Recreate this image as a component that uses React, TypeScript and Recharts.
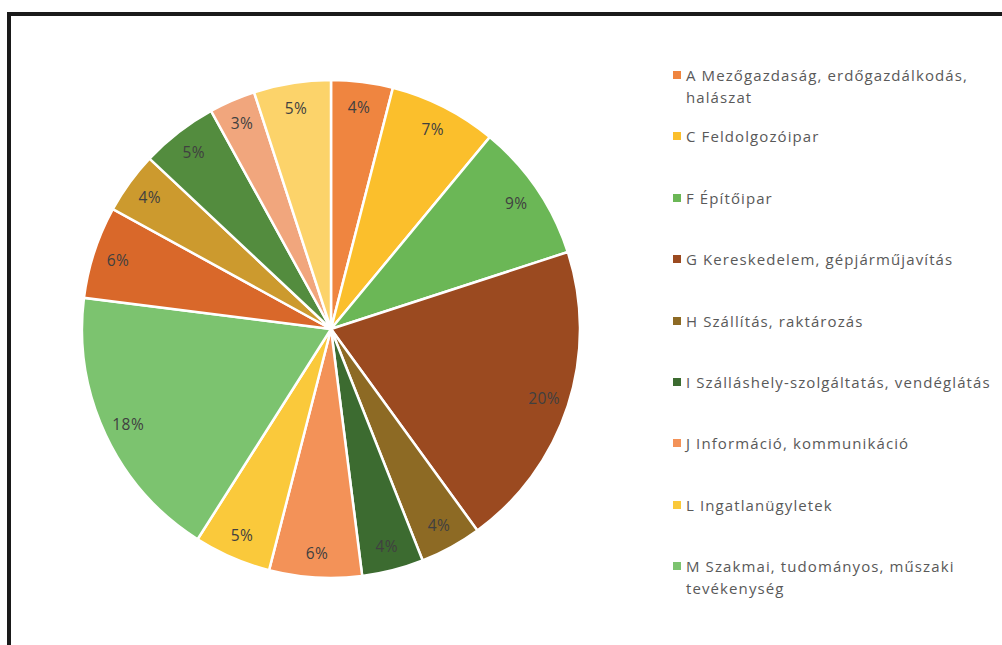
import { PieChart, Pie, Cell, Legend } from "recharts";

const sectors = [
  "A Mezőgazdaság, erdőgazdálkodás, halászat",
  "C Feldolgozóipar",
  "F Építőipar",
  "G Kereskedelem, gépjárműjavítás",
  "H Szállítás, raktározás",
  "I Szálláshely-szolgáltatás, vendéglátás",
  "J Információ, kommunikáció",
  "L Ingatlanügyletek",
  "M Szakmai, tudományos, műszaki tevékenység",
  "N Adminisztratív és szolgáltatást támogató tevékenység",
  "P Oktatás",
  "Q Humán-egészségügyi, szociális ellátás",
  "R Művészet, szórakoztatás, szabad idő",
  "S Egyéb szolgáltatás",
];

const shares = [4, 7, 9, 20, 4, 4, 6, 5, 18, 6, 4, 5, 3, 5];

const colors = [
  "#EF8540",
  "#FBBF2C",
  "#6BB756",
  "#9B4A20",
  "#8D6A24",
  "#3C6B30",
  "#F39258",
  "#FAC93B",
  "#7CC36F",
  "#D9682A",
  "#CC9A2E",
  "#538C3E",
  "#F1A67D",
  "#FCD36A",
];

// only the first 9 categories fit in the legend
const legendCount = 9;

const data = sectors.map((name, i) => ({ name, value: shares[i] }));

const RAD = Math.PI / 180;

const renderLabel = (props: any) => {
  const { cx, cy, midAngle, outerRadius, value } = props;
  const r = outerRadius * 0.9;
  const x = cx + r * Math.cos(-midAngle * RAD);
  const y = cy + r * Math.sin(-midAngle * RAD);
  return (
    <text
      x={x}
      y={y}
      fill="#404040"
      fontSize={15.5}
      letterSpacing={0.4}
      fontFamily="'Open Sans', sans-serif"
      textAnchor="middle"
      dominantBaseline="central"
    >
      {value}%
    </text>
  );
};

const renderLegend = () => (
  <div style={{ position: "relative", width: 330, height: 560 }}>
    {sectors.slice(0, legendCount).map((name, i) => (
      <div
        key={name}
        style={{
          position: "absolute",
          top: i * 61.4,
          left: 0,
          width: 318,
          display: "flex",
          alignItems: "flex-start",
          fontFamily: "'Open Sans', sans-serif",
          fontSize: 15,
          letterSpacing: 1.1,
          lineHeight: "22px",
          color: "#595959",
        }}
      >
        <span
          style={{
            display: "inline-block",
            width: 8,
            height: 8,
            marginTop: 7,
            marginRight: 5,
            background: colors[i],
            flexShrink: 0,
          }}
        />
        <span>{name}</span>
      </div>
    ))}
  </div>
);

export default function App() {
  return (
    <div
      style={{
        position: "absolute",
        left: 0,
        top: 0,
        width: 1002,
        height: 645,
        background: "#fff",
        overflow: "hidden",
      }}
    >
      {/* frame */}
      <div
        style={{
          position: "absolute",
          left: 7,
          top: 12,
          width: 1100,
          height: 700,
          borderTop: "4px solid #1a1a1a",
          borderLeft: "4px solid #1a1a1a",
        }}
      />
      <div style={{ position: "absolute", left: 0, top: 0 }}>
        <PieChart
          width={1002}
          height={645}
          margin={{ top: 0, right: 0, bottom: 0, left: 0 }}
        >
          <Pie
            data={data}
            dataKey="value"
            nameKey="name"
            cx={331}
            cy={329}
            outerRadius={249}
            startAngle={90}
            endAngle={-270}
            stroke="#ffffff"
            strokeWidth={2.5}
            label={renderLabel}
            labelLine={false}
            isAnimationActive={false}
          >
            {data.map((d, i) => (
              <Cell key={d.name} fill={colors[i]} />
            ))}
          </Pie>
          <Legend
            layout="vertical"
            align="right"
            verticalAlign="top"
            content={renderLegend}
            wrapperStyle={{ left: 673, top: 64, width: 330 }}
          />
        </PieChart>
      </div>
    </div>
  );
}
